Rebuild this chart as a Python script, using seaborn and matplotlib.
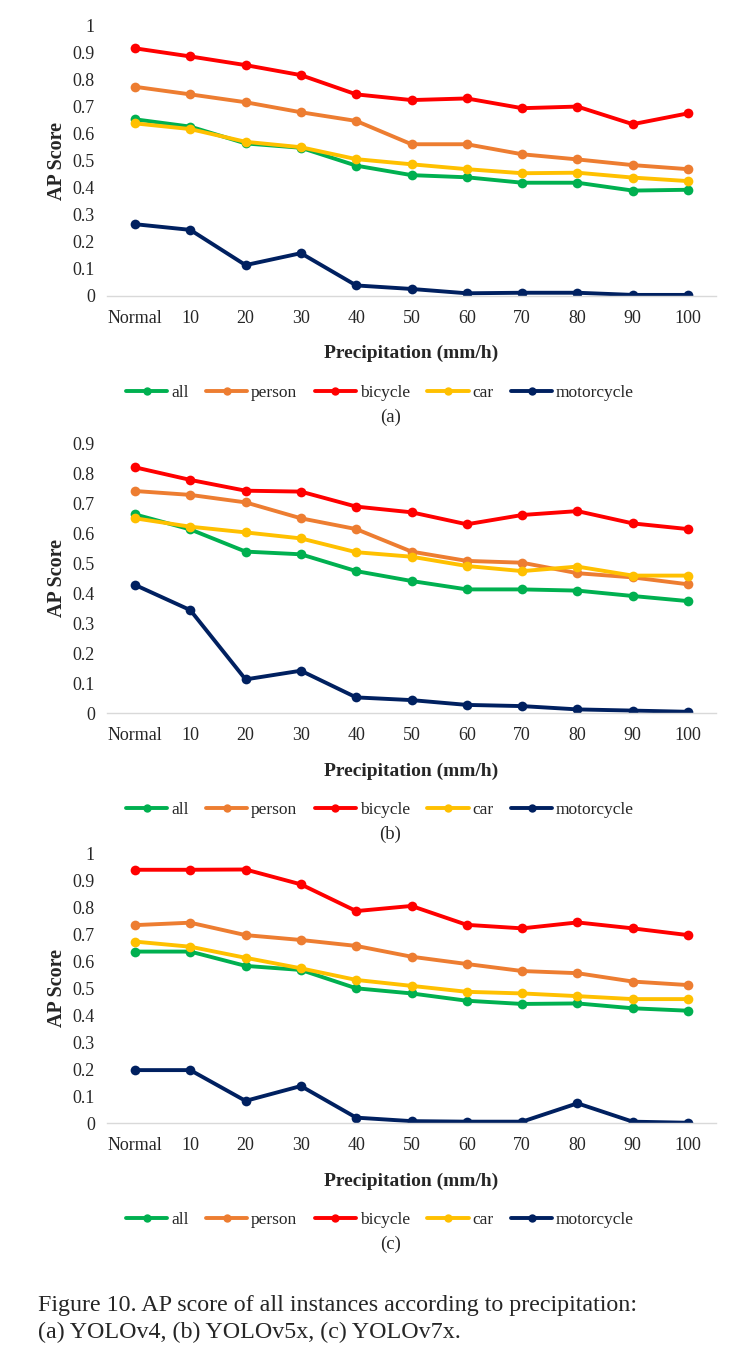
import pandas as pd
import matplotlib.pyplot as plt
import seaborn as sns
from matplotlib.lines import Line2D
from matplotlib.ticker import FuncFormatter

# --- data ---
precip = ['Normal', '10', '20', '30', '40', '50', '60', '70', '80', '90', '100']
classes = ['all', 'person', 'bicycle', 'car', 'motorcycle']
colors = ['#00B050', '#ED7D31', '#FF0000', '#FFC000', '#002060']

v4_all = [0.652, 0.625, 0.563, 0.547, 0.481, 0.446, 0.438, 0.418, 0.418, 0.389, 0.392]
v4_person = [0.772, 0.744, 0.715, 0.678, 0.646, 0.560, 0.560, 0.523, 0.504, 0.483, 0.468]
v4_bicycle = [0.914, 0.884, 0.852, 0.815, 0.744, 0.723, 0.729, 0.693, 0.699, 0.634, 0.674]
v4_car = [0.637, 0.616, 0.569, 0.549, 0.505, 0.486, 0.468, 0.453, 0.455, 0.437, 0.424]
v4_motorcycle = [0.265, 0.244, 0.114, 0.158, 0.039, 0.026, 0.010, 0.012, 0.012, 0.004, 0.004]

v5_all = [0.663, 0.613, 0.539, 0.530, 0.474, 0.441, 0.413, 0.413, 0.409, 0.391, 0.374]
v5_person = [0.741, 0.728, 0.703, 0.650, 0.614, 0.539, 0.508, 0.502, 0.467, 0.453, 0.430]
v5_bicycle = [0.820, 0.778, 0.742, 0.739, 0.689, 0.670, 0.630, 0.661, 0.674, 0.633, 0.614]
v5_car = [0.650, 0.622, 0.603, 0.583, 0.537, 0.522, 0.491, 0.474, 0.489, 0.459, 0.459]
v5_motorcycle = [0.428, 0.344, 0.113, 0.142, 0.053, 0.044, 0.028, 0.024, 0.013, 0.009, 0.005]

v7_all = [0.636, 0.636, 0.583, 0.568, 0.500, 0.481, 0.454, 0.442, 0.444, 0.426, 0.417]
v7_person = [0.734, 0.743, 0.697, 0.679, 0.657, 0.617, 0.590, 0.564, 0.556, 0.525, 0.512]
v7_bicycle = [0.939, 0.939, 0.940, 0.885, 0.786, 0.805, 0.735, 0.722, 0.744, 0.722, 0.697]
v7_car = [0.673, 0.654, 0.613, 0.574, 0.531, 0.509, 0.487, 0.481, 0.471, 0.460, 0.460]
v7_motorcycle = [0.197, 0.197, 0.083, 0.138, 0.021, 0.008, 0.006, 0.006, 0.074, 0.006, 0.002]

panels = [
    ('(a)', [v4_all, v4_person, v4_bicycle, v4_car, v4_motorcycle], 1.0),
    ('(b)', [v5_all, v5_person, v5_bicycle, v5_car, v5_motorcycle], 0.9),
    ('(c)', [v7_all, v7_person, v7_bicycle, v7_car, v7_motorcycle], 1.0),
]

sns.set_style('white')
plt.rcParams['font.family'] = ['Liberation Serif', 'DejaVu Serif']

W, H = 753, 1352
fig = plt.figure(figsize=(W / 100, H / 100), dpi=100)

# axes rectangles in pixels: (zero line y, top y)
boxes = [(296, 25), (713.3, 443.3), (1123.3, 853.3)]
left_px, right_px = 107.3, 715.7

palette = dict(zip(classes, colors))

for (tag, series, ymax), (y0, y1) in zip(panels, boxes):
    ax = fig.add_axes([left_px / W, 1 - y0 / H, (right_px - left_px) / W, (y0 - y1) / H])
    rows = []
    for cls, vals in zip(classes, series):
        for p, v in zip(precip, vals):
            rows.append({'Precipitation': p, 'AP': v, 'cls': cls})
    df = pd.DataFrame(rows)
    sns.lineplot(data=df, x='Precipitation', y='AP', hue='cls', hue_order=classes,
                 palette=palette, marker='o', markersize=7, markeredgewidth=0,
                 linewidth=2.8, sort=False, legend=False, ax=ax)

    ax.set_xlim(-0.5, len(precip) - 0.5)
    ax.set_ylim(0, ymax)
    ax.set_yticks([i / 10 for i in range(int(round(ymax * 10)) + 1)])
    ax.yaxis.set_major_formatter(FuncFormatter(lambda v, _: f'{v:g}'))
    ax.tick_params(axis='y', length=0, pad=9, labelsize=13)
    ax.tick_params(axis='x', length=0, pad=10, labelsize=13)
    for s in ['top', 'right', 'left']:
        ax.spines[s].set_visible(False)
    ax.spines['bottom'].set_color('#D9D9D9')
    ax.spines['bottom'].set_linewidth(1)

    ax.set_ylabel('AP Score', fontsize=14.5, fontweight='bold')
    ax.yaxis.set_label_coords(-0.066, 0.5)
    ax.set_xlabel('Precipitation (mm/h)', fontsize=14, fontweight='bold')
    ax.xaxis.set_label_coords(0.5, -49 / (y0 - y1))

    handles = [Line2D([], [], color=c, lw=2.8, marker='o', markersize=6, markeredgewidth=0)
               for c in colors]
    ax.legend(handles, classes, loc='center', bbox_to_anchor=(0.448, -0.358), ncol=5,
              frameon=False, fontsize=12.5, handlelength=2.4, handletextpad=0.2,
              columnspacing=1.0)
    ax.text(0.465, -0.448, tag, transform=ax.transAxes, ha='center', va='center', fontsize=13.5)

fig.text(38 / W, 1 - 1305 / H, 'Figure 10. AP score of all instances according to precipitation:',
         ha='left', va='center', fontsize=17.3)
fig.text(38 / W, 1 - 1332 / H, '(a) YOLOv4, (b) YOLOv5x, (c) YOLOv7x.',
         ha='left', va='center', fontsize=17.3)

fig.savefig('out.png', dpi=100)
plt.close(fig)
